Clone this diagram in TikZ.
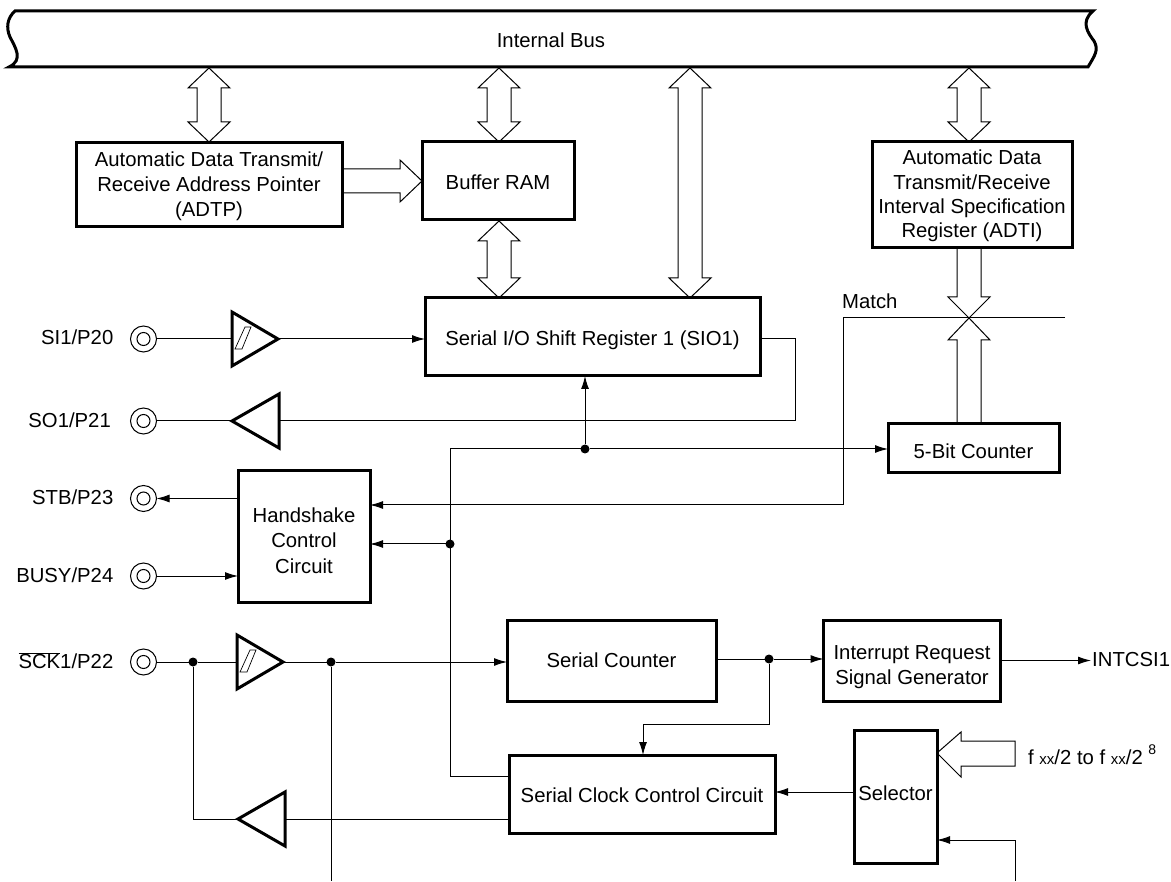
\documentclass[tikz,border=0pt]{standalone}
\usepackage{fontspec}
\setmainfont{Liberation Sans}
\usetikzlibrary{arrows.meta}
\newcommand{\hh}{21}
\newcommand{\hs}{12}
\newcommand{\hl}{20}
\newcommand{\widetwo}[3]{\filldraw[widearrow] (#1,#2) -- (#1+\hh,#2+\hl) -- (#1+\hs,#2+\hl) -- (#1+\hs,#3-\hl) -- (#1+\hh,#3-\hl) -- (#1,#3) -- (#1-\hh,#3-\hl) -- (#1-\hs,#3-\hl) -- (#1-\hs,#2+\hl) -- (#1-\hh,#2+\hl) -- cycle;}
\newcommand{\pin}[5]{\node[pinring] (#1) at (#2,#3) {};
  \node[pincore] (#1core) at (#2,#3) {};
  \node[pinlabel] (#1label) at (#5) {#4};}
\newcommand{\bufright}[3]{\draw[buffer] (#2,#3-27) -- (#2+46,#3) -- (#2,#3+27) -- cycle;
  \coordinate (#1in) at (#2,#3);
  \coordinate (#1out) at (#2+46,#3);}
\newcommand{\bufleft}[3]{\draw[buffer] (#2,#3) -- (#2+47,#3-27) -- (#2+47,#3+27) -- cycle;
  \coordinate (#1out) at (#2,#3);
  \coordinate (#1in) at (#2+47,#3);}
\newcommand{\schmitt}[2]{\draw[line width=0.7pt] (#1+3,#2+10) -- (#1+10,#2+10) -- (#1+19,#2-12) -- (#1+13,#2-12) -- cycle;}
\newcommand{\dn}[1]{\rule{0pt}{#1pt}}
\tikzset{
  blockbox/.style={draw, line width=3pt, fill=white, align=center, inner sep=0pt, outer sep=0pt, font=\fontsize{20.3}{25.3}\selectfont},
  sig/.style={line width=1pt},
  sigarrow/.style={line width=1pt, -{Latex[length=13pt,width=8pt]}},
  widearrow/.style={line width=1pt, fill=white, line join=miter},
  buffer/.style={line width=3pt, fill=white, line join=miter},
  pinring/.style={draw, circle, line width=1pt, minimum size=26pt, inner sep=0pt, outer sep=0pt},
  pincore/.style={draw, circle, line width=1pt, minimum size=13pt, inner sep=0pt},
  pinlabel/.style={anchor=east, inner sep=0pt, font=\fontsize{20.3}{25}\selectfont},
  textlabel/.style={inner sep=0pt, font=\fontsize{20.3}{25}\selectfont},
  junction/.style={circle, fill=black, minimum size=9pt, inner sep=0pt, outer sep=0pt}
}
\begin{document}
\begin{tikzpicture}[x=1pt,y=-1pt]
  \useasboundingbox (0,0) rectangle (1171,882);
  % bus
  \draw[line width=3pt] (15,11) .. controls (7,18) and (6,28) .. (10,37) .. controls (15,47) and (24,60) .. (9,67)
    -- (1088,67) .. controls (1095,55) and (1099,50) .. (1094,41) .. controls (1088,33) and (1080,22) .. (1093,11) -- cycle;
  \node[textlabel] (bus) at (551,40) {Internal Bus};
  % wide arrows
  \widetwo{209}{68}{142}
  \widetwo{499}{68}{142}
  \widetwo{499}{221}{298}
  \widetwo{690}{68}{298}
  \widetwo{969}{68}{142}
  \filldraw[widearrow] (957,248) -- (957,297) -- (948,297) -- (969,318) -- (990,297) -- (981,297) -- (981,248);
  \filldraw[widearrow] (957,424) -- (957,340) -- (948,340) -- (969,318) -- (990,340) -- (981,340) -- (981,424);
  \filldraw[widearrow] (343,169) -- (400,169) -- (400,160) -- (422,181) -- (400,202) -- (400,193) -- (343,193);
  \filldraw[widearrow] (1015,741) -- (961,741) -- (961,732) -- (937,753) -- (961,777) -- (961,766) -- (1015,766) -- cycle;
  % blocks
  \node[blockbox, minimum width=266pt, minimum height=84pt] (adtp) at (209,185) {\dn{17}Automatic Data Transmit/\\Receive Address Pointer\\(ADTP)};
  \node[blockbox, minimum width=152pt, minimum height=78pt] (ram) at (498,181) {\dn{18}Buffer RAM};
  \node[blockbox, minimum width=200pt, minimum height=106pt, font=\fontsize{20.3}{24.3}\selectfont] (adti) at (972,195) {\dn{17}Automatic Data\\Transmit/Receive\\Interval Specification\\Register (ADTI)};
  \node[blockbox, minimum width=335pt, minimum height=78pt] (sio) at (592.5,337) {\dn{22}Serial I/O Shift Register 1 (SIO1)};
  \node[blockbox, minimum width=171pt, minimum height=49pt] (count) at (973.5,448.5) {\dn{20}5-Bit Counter};
  \node[blockbox, minimum width=132pt, minimum height=131pt] (hand) at (304,536.5) {\dn{23}Handshake\\Control\\Circuit};
  \node[blockbox, minimum width=209pt, minimum height=81pt] (serial) at (611.5,660.5) {Serial Counter};
  \node[blockbox, minimum width=177pt, minimum height=81pt] (intreq) at (912,660.5) {\dn{27}Interrupt Request\\Signal Generator};
  \node[blockbox, minimum width=266pt, minimum height=78pt] (clock) at (642,794) {\dn{18}Serial Clock Control Circuit};
  \node[blockbox, minimum width=83pt, minimum height=133pt] (sel) at (895.5,796.5) {\rule[-6pt]{0pt}{0pt}Selector};
  % pins
  \pin{si}{143.5}{339}{SI1/P20}{113.5,337}
  \pin{so}{143.5}{421}{SO1/P21}{111,420.5}
  \pin{stb}{143.5}{498.5}{STB/P23}{113.5,497}
  \pin{busy}{143.5}{576}{BUSY/P24}{113.5,575}
  \pin{sck}{143.5}{662}{$\overline{\mbox{SCK}}$1/P22}{113.5,661}
  % buffers
  \bufright{bsi}{232}{339}
  \schmitt{232}{339}
  \bufleft{bso}{232}{421}
  \bufright{bsck}{237}{662}
  \schmitt{237}{662}
  \bufleft{bclk}{238}{819}
  % junctions
  \node[junction] (jsio) at (585,449) {};
  \node[junction] (jhand) at (450,544) {};
  \node[junction] (jsck) at (193,662) {};
  \node[junction] (jbuf) at (331,662) {};
  \node[junction] (jcount) at (769,659) {};
  % free ends
  \coordinate (matchend) at (1065,318);
  \coordinate (sckend) at (331,881);
  \coordinate (selend) at (1015,881);
  % lines
  \draw[sig] (si) -- (bsiin);
  \draw[sigarrow] (bsiout) -- (sio.west |- bsiout);
  \draw[sig] (sio.east |- bsiout) -- (795,339) -- (795,421) -- (bsoin);
  \draw[sig] (bsoout) -- (so);
  \draw[sigarrow] (hand.west |- stb) -- (stb);
  \draw[sigarrow] (busy) -- (hand.west |- busy);
  \draw[sig] (sck) -- (jsck) -- (bsckin);
  \draw[sig] (bsckout) -- (jbuf);
  \draw[sigarrow] (jbuf) -- (serial.west |- jbuf);
  \draw[sig] (jbuf) -- (sckend);
  \draw[sig] (jsck) |- (bclkout);
  \draw[sig] (bclkin) -- (clock.west |- bclkin);
  \draw[sig] (clock.west |- 0,776) -- (450,776) -- (450,449) -- (jsio);
  \draw[sigarrow] (jsio) -- (sio.south -| jsio);
  \draw[sigarrow] (jsio) -- (count.west |- jsio);
  \draw[sigarrow] (jhand) -- (hand.east |- jhand);
  \draw[sigarrow] (matchend) -- (843,318) -- (843,505) -- (hand.east |- 0,505);
  \draw[sig] (serial.east |- jcount) -- (jcount);
  \draw[sigarrow] (jcount) -- (intreq.west |- jcount);
  \draw[sigarrow] (jcount) -- (769,724) -- (643,724) -- (643,755);
  \draw[sigarrow] (intreq.east) -- (1091,660.5);
  \draw[sigarrow] (sel.west |- 0,792) -- (clock.east |- 0,792);
  \draw[sigarrow] (selend) -- (1015,840) -- (sel.east |- 0,840);
  % labels
  \node[textlabel, anchor=west] (match) at (842,301) {Match};
  \node[textlabel, anchor=west] (intcsi) at (1092,660) {INTCSI1};
  \node[textlabel, anchor=west] (fxx) at (1028,755) {f {\fontsize{15}{15}\selectfont xx}/2 to f {\fontsize{15}{15}\selectfont xx}/2 \raisebox{10pt}{\fontsize{14}{14}\selectfont 8}};
\end{tikzpicture}
\end{document}
